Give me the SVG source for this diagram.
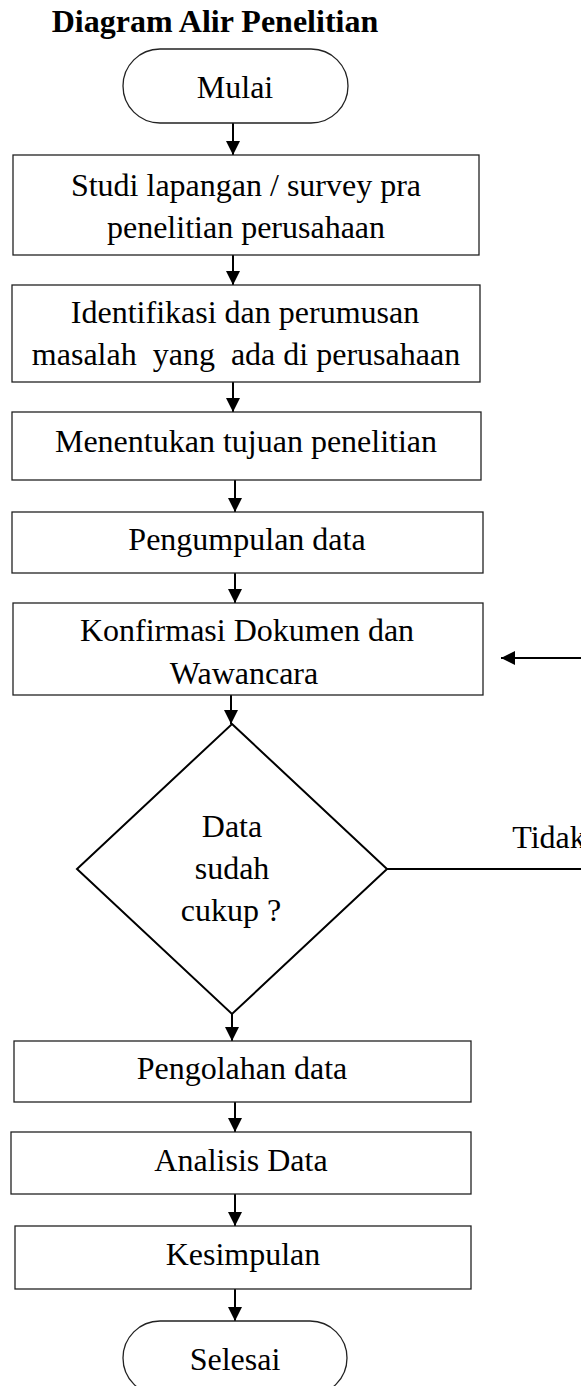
<svg xmlns="http://www.w3.org/2000/svg" width="581" height="1386" viewBox="0 0 581 1386">
<style>
text { font-family: "Liberation Serif", "Times New Roman", serif; font-size: 32px; fill: #000; text-anchor: middle; white-space: pre; }
.title { font-weight: bold; }
.box { fill: #fff; stroke: #222; stroke-width: 1.3; }
.conn { fill: none; stroke: #000; stroke-width: 2; }
</style>
<defs>
<marker id="arr" markerUnits="userSpaceOnUse" markerWidth="14" markerHeight="14" refX="14" refY="7" orient="auto">
<path d="M0,0 L14,7 L0,14 z" fill="#000"/>
</marker>
</defs>
<rect width="581" height="1386" fill="#fff"/>
<text class="title" x="215" y="32">Diagram Alir Penelitian</text>

<g id="connectors">
<line class="conn" x1="233" y1="123" x2="233" y2="155" marker-end="url(#arr)"/>
<line class="conn" x1="233" y1="255" x2="233" y2="285" marker-end="url(#arr)"/>
<line class="conn" x1="233" y1="382" x2="233" y2="412" marker-end="url(#arr)"/>
<line class="conn" x1="235" y1="480" x2="235" y2="512" marker-end="url(#arr)"/>
<line class="conn" x1="235" y1="573" x2="235" y2="603" marker-end="url(#arr)"/>
<line class="conn" x1="231" y1="695" x2="231" y2="724" marker-end="url(#arr)"/>
<line class="conn" x1="232" y1="1014" x2="232" y2="1041" marker-end="url(#arr)"/>
<line class="conn" x1="235" y1="1102" x2="235" y2="1132" marker-end="url(#arr)"/>
<line class="conn" x1="235" y1="1194" x2="235" y2="1226" marker-end="url(#arr)"/>
<line class="conn" x1="235" y1="1289" x2="235" y2="1321" marker-end="url(#arr)"/>
<line class="conn" x1="387" y1="869" x2="581" y2="869"/>
<line class="conn" x1="581" y1="658" x2="501" y2="658" marker-end="url(#arr)"/>
<text x="549" y="848">Tidak</text>
</g>

<g id="mulai">
<rect class="box" x="123" y="49" width="225" height="74" rx="37" ry="37"/>
<text x="235" y="98">Mulai</text>
</g>
<g id="studi">
<rect class="box" x="13" y="155" width="466" height="100"/>
<text x="246" y="196">Studi lapangan / survey pra</text>
<text x="246" y="238">penelitian perusahaan</text>
</g>
<g id="identifikasi">
<rect class="box" x="12" y="285" width="468" height="97"/>
<text x="245" y="323">Identifikasi dan perumusan</text>
<text x="246" y="365" xml:space="preserve">masalah  yang  ada di perusahaan</text>
</g>
<g id="tujuan">
<rect class="box" x="12" y="412" width="469" height="68"/>
<text x="246" y="452">Menentukan tujuan penelitian</text>
</g>
<g id="pengumpulan">
<rect class="box" x="12" y="512" width="471" height="61"/>
<text x="247" y="550">Pengumpulan data</text>
</g>
<g id="konfirmasi">
<rect class="box" x="13" y="603" width="470" height="92"/>
<text x="247" y="641">Konfirmasi Dokumen dan</text>
<text x="244" y="684">Wawancara</text>
</g>
<g id="keputusan">
<polygon class="box" points="232,724 387,869 232,1014 77,869" style="stroke:#000;stroke-width:2"/>
<text x="232" y="837">Data</text>
<text x="232" y="879">sudah</text>
<text x="231" y="921">cukup ?</text>
</g>
<g id="pengolahan">
<rect class="box" x="14" y="1041" width="457" height="61"/>
<text x="242" y="1079">Pengolahan data</text>
</g>
<g id="analisis">
<rect class="box" x="11" y="1132" width="460" height="62"/>
<text x="241" y="1171">Analisis Data</text>
</g>
<g id="kesimpulan">
<rect class="box" x="15" y="1226" width="456" height="63"/>
<text x="243" y="1265">Kesimpulan</text>
</g>
<g id="selesai">
<rect class="box" x="123" y="1321" width="224" height="74" rx="37" ry="37"/>
<text x="235" y="1370">Selesai</text>
</g>
</svg>
